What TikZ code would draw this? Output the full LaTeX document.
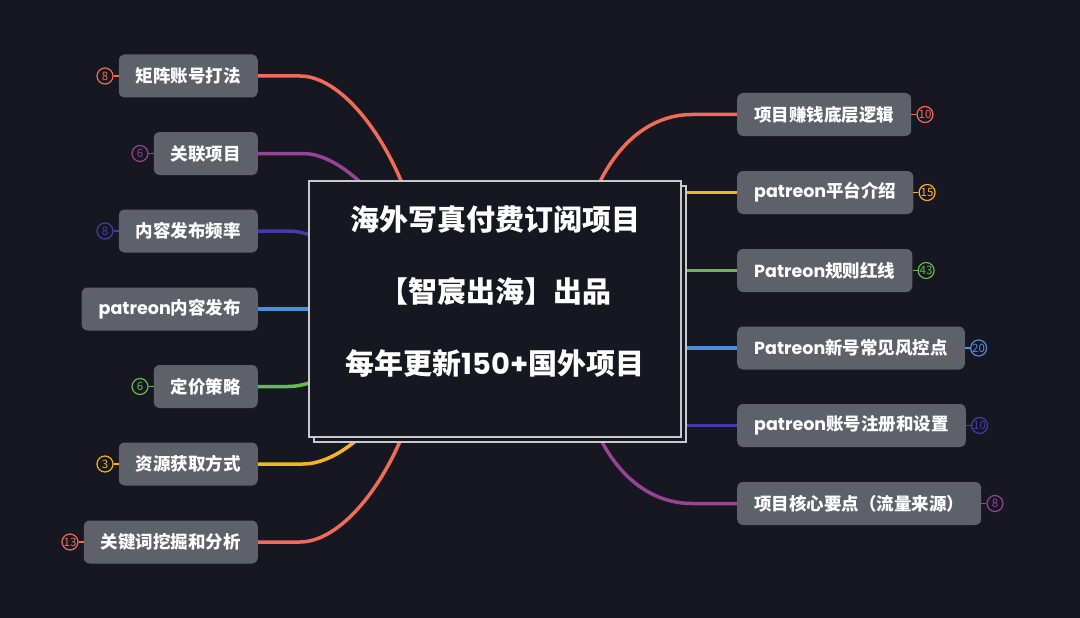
\documentclass[tikz,border=0pt]{standalone}
\usepackage{fontspec}
\setmainfont{Noto Sans CJK SC}
\newfontfamily\pop{Poppins}
\usepackage{xcolor}
\usetikzlibrary{positioning}
\definecolor{bgcol}    {RGB}{22,23,33}
\definecolor{boxcol}   {RGB}{94,96,106}
\definecolor{framecol} {RGB}{200,200,204}
\definecolor{colred}   {RGB}{241,108,88}
\definecolor{colpurple}{RGB}{150,68,150}
\definecolor{colindigo}{RGB}{72,58,170}
\definecolor{colblue}  {RGB}{78,140,222}
\definecolor{colgreen} {RGB}{98,188,78}
\definecolor{colyellow}{RGB}{246,180,30}

\begin{document}
\begin{tikzpicture}[x=1pt,y=-1pt,
  sub/.style={rectangle,rounded corners=6pt,fill=boxcol,text=white,
              font=\fontsize{17.5}{20}\selectfont\bfseries,
              inner xsep=17pt,minimum height=43pt},
  lsub/.style={sub,anchor=east},
  rsub/.style={sub,anchor=west},
  cnt/.style={circle,draw=#1,text=#1,line width=1.2pt,
              minimum size=16pt,inner sep=0pt,
              font=\fontsize{11.5}{11.5}\selectfont},
  stub/.style={draw=#1,line width=1.2pt},
  ln/.style={draw=#1,line width=3.5pt},
  rootbox/.style={rectangle,draw=framecol,fill=bgcol,line width=1.6pt,
                  minimum width=372pt,minimum height=256pt},
  ttl/.style={text=white,font=\fontsize{29}{72}\selectfont\bfseries,
              align=center}
]
\fill[bgcol] (0,0) rectangle (1080,618);
\useasboundingbox (0,0) rectangle (1080,618);

% left branches
\node[lsub] (l1) at (258,76)    {矩阵账号打法};
\node[lsub] (l2) at (258,153.5) {关联项目};
\node[lsub] (l3) at (258,231)   {内容发布频率};
\node[lsub] (l4) at (258,309)   {{\pop patreon}内容发布};
\node[lsub] (l5) at (258,386.5) {定价策略};
\node[lsub] (l6) at (258,464)   {资源获取方式};
\node[lsub] (l7) at (258,542)   {关键词挖掘和分析};

% right branches
\node[rsub] (r1) at (737,114.5) {项目赚钱底层逻辑};
\node[rsub] (r2) at (737,192.5) {{\pop patreon}平台介绍};
\node[rsub] (r3) at (737,270.5) {{\pop Patreon}规则红线};
\node[rsub] (r4) at (737,348)   {{\pop Patreon}新号常见风控点};
\node[rsub] (r5) at (737,425.5) {{\pop patreon}账号注册和设置};
\node[rsub] (r6) at (737,503.5) {项目核心要点（流量来源）};

% counters
\node[cnt=colred,   left=5pt of l1] (n1) {8};
\node[cnt=colpurple,left=5pt of l2] (n2) {6};
\node[cnt=colindigo,left=5pt of l3] (n3) {8};
\node[cnt=colgreen, left=5pt of l5] (n5) {6};
\node[cnt=colyellow,left=5pt of l6] (n6) {3};
\node[cnt=colred,   left=5pt of l7] (n7) {13};
\node[cnt=colred,   right=5pt of r1] (m1) {10};
\node[cnt=colyellow,right=5pt of r2] (m2) {15};
\node[cnt=colgreen, right=5pt of r3] (m3) {43};
\node[cnt=colblue,  right=5pt of r4] (m4) {20};
\node[cnt=colindigo,right=5pt of r5] (m5) {10};
\node[cnt=colpurple,right=5pt of r6] (m6) {8};
\draw[stub=colred]    (n1)--(l1);
\draw[stub=colpurple] (n2)--(l2);
\draw[stub=colindigo] (n3)--(l3);
\draw[stub=colgreen]  (n5)--(l5);
\draw[stub=colyellow] (n6)--(l6);
\draw[stub=colred]    (n7)--(l7);
\draw[stub=colred]    (m1)--(r1);
\draw[stub=colyellow] (m2)--(r2);
\draw[stub=colgreen]  (m3)--(r3);
\draw[stub=colblue]   (m4)--(r4);
\draw[stub=colindigo] (m5)--(r5);
\draw[stub=colpurple] (m6)--(r6);

% connectors, ending under the root box
\coordinate (h1) at (420,240);
\coordinate (h2) at (390,220);
\coordinate (h3) at (345,248);
\coordinate (h5) at (345,370);
\coordinate (h6) at (390,400);
\coordinate (h7) at (420,380);
\coordinate (h8) at (580,240);
\coordinate (h9) at (580,380);
\draw[ln=colred]    (l1.east)--++(42,0) .. controls +(45,0) and +(-20,-90) .. (h1);
\draw[ln=colpurple] (l2.east)--++(45,0) .. controls +(30,0) and +(-20,-35) .. (h2);
\draw[ln=colindigo] (l3.east)--++(30,0) .. controls +(20,0) and +(-20,-6) .. (h3);
\draw[ln=colblue]   (l4.east)--++(80,0);
\draw[ln=colgreen]  (l5.east)--++(30,0) .. controls +(20,0) and +(-20,6) .. (h5);
\draw[ln=colyellow] (l6.east)--++(45,0) .. controls +(30,0) and +(-20,35) .. (h6);
\draw[ln=colred]    (l7.east)--++(42,0) .. controls +(45,0) and +(-20,90) .. (h7);
\draw[ln=colred]    (r1.west)--++(-45,0) .. controls +(-45,0) and +(20,-90) .. (h8);
\draw[ln=colyellow] (r2.west)--++(-80,0);
\draw[ln=colgreen]  (r3.west)--++(-80,0);
\draw[ln=colblue]   (r4.west)--++(-80,0);
\draw[ln=colindigo] (r5.west)--++(-80,0);
\draw[ln=colpurple] (r6.west)--++(-45,0) .. controls +(-45,0) and +(20,90) .. (h9);

% root
\node[rootbox] (back) at (500,314) {};
\node[rootbox] (root) at (495,309) {};
\node[ttl] (title) at (495,292)
  {海外写真付费订阅项目\\【智宸出海】出品\\每年更新{\pop 150+}国外项目};
\end{tikzpicture}
\end{document}
